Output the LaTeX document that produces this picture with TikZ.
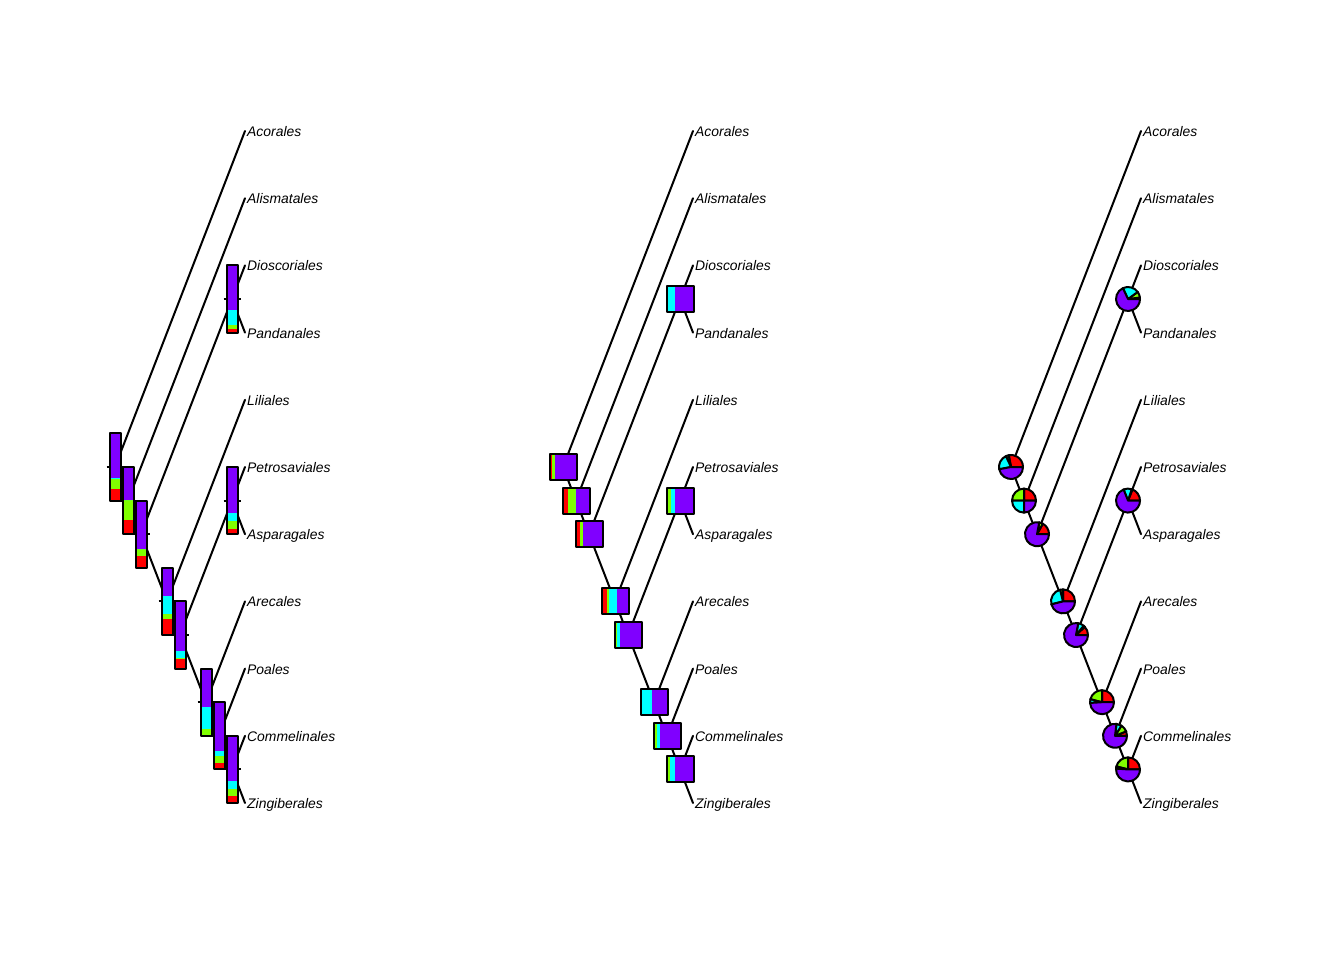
\documentclass[tikz,border=0pt]{standalone}
\usepackage{fontspec}
\setmainfont{Liberation Sans}
\usetikzlibrary{positioning}

\definecolor{rbred}{HTML}{FF0000}
\definecolor{rbgreen}{HTML}{80FF00}
\definecolor{rbcyan}{HTML}{00FFFF}
\definecolor{rbpurple}{HTML}{8000FF}

% vertical thermometer: #1 node, #2 red, #3 green, #4 cyan, purple fills the rest
\newcommand{\vthermo}[4]{%
  \begin{scope}[shift={(#1)}]
    \fill[rbred]    (-5.5,33.6) rectangle (5.5,{33.6-67.2*#2});
    \fill[rbgreen]  (-5.5,{33.6-67.2*#2}) rectangle (5.5,{33.6-67.2*(#2+#3)});
    \fill[rbcyan]   (-5.5,{33.6-67.2*(#2+#3)}) rectangle (5.5,{33.6-67.2*(#2+#3+#4)});
    \fill[rbpurple] (-5.5,{33.6-67.2*(#2+#3+#4)}) rectangle (5.5,-33.6);
    \draw[frame] (-5.5,-33.6) rectangle (5.5,33.6);
    \draw[frame] (-8.5,0) -- (-5.5,0) (5.5,0) -- (8.5,0);
  \end{scope}}

% horizontal thermometer (square box), red on the left
\newcommand{\hthermo}[4]{%
  \begin{scope}[shift={(#1)}]
    \fill[rbred]    (-13.5,-13) rectangle ({-13.5+27*#2},13);
    \fill[rbgreen]  ({-13.5+27*#2},-13) rectangle ({-13.5+27*(#2+#3)},13);
    \fill[rbcyan]   ({-13.5+27*(#2+#3)},-13) rectangle ({-13.5+27*(#2+#3+#4)},13);
    \fill[rbpurple] ({-13.5+27*(#2+#3+#4)},-13) rectangle (13.5,13);
    \draw[frame] (-13.5,-13) rectangle (13.5,13);
  \end{scope}}

% pie, slices counter-clockwise from east
\newcommand{\nodepie}[4]{%
  \begin{scope}[shift={(#1)}, yscale=-1]
    \filldraw[frame, fill=rbred] (0,0) -- (0:12)
      arc[start angle=0, end angle={360*#2}, radius=12] -- cycle;
    \filldraw[frame, fill=rbgreen] (0,0) -- ({360*#2}:12)
      arc[start angle={360*#2}, end angle={360*(#2+#3)}, radius=12] -- cycle;
    \filldraw[frame, fill=rbcyan] (0,0) -- ({360*(#2+#3)}:12)
      arc[start angle={360*(#2+#3)}, end angle={360*(#2+#3+#4)}, radius=12] -- cycle;
    \filldraw[frame, fill=rbpurple] (0,0) -- ({360*(#2+#3+#4)}:12)
      arc[start angle={360*(#2+#3+#4)}, end angle=360, radius=12] -- cycle;
  \end{scope}}

\begin{document}
\begin{tikzpicture}[x=1pt, y=-1pt,
    edge/.style={line width=2pt, line cap=round},
    frame/.style={draw, line width=2pt, line join=round},
    tiplabel/.style={inner sep=0pt, anchor=base west, yshift=-5.5pt,
      font=\fontsize{13.9}{16}\selectfont\itshape}]
\useasboundingbox (0,0) rectangle (1344,960);

% the same cladogram three times
\foreach \p in {0,1,2} {
  \begin{scope}[xshift=\p*448pt, name prefix=p\p-]
    % tips and their labels
    \foreach \name [count=\i] in {Acorales, Alismatales, Dioscoriales, Pandanales,
        Liliales, Petrosaviales, Asparagales, Arecales, Poales, Commelinales,
        Zingiberales} {
      \coordinate (a\i) at (245,{131+67.2*(\i-1)});
      \node[right=2pt of a\i, tiplabel] (l\i) {\name};
    }
    % inner nodes
    \coordinate (r)  at (115, 467);
    \coordinate (n2) at (128, 500.6);
    \coordinate (n3) at (141, 534.2);
    \coordinate (nd) at (232, 299);
    \coordinate (n4) at (167, 601.4);
    \coordinate (n5) at (180, 635);
    \coordinate (np) at (232, 500.6);
    \coordinate (n6) at (206, 702.2);
    \coordinate (n7) at (219, 735.8);
    \coordinate (n8) at (232, 769.4);
    % branches
    \foreach \u/\v in {r/a1, r/n2, n2/a2, n2/n3, n3/nd, nd/a3, nd/a4, n3/n4,
        n4/a5, n4/n5, n5/np, np/a6, np/a7, n5/n6, n6/a8, n6/n7, n7/a9,
        n7/n8, n8/a10, n8/a11}
      \draw[edge] (\u) -- (\v);
  \end{scope}
}

% thermometers on the first tree
\vthermo{p0-r}{.18}{.14}{.02}
\vthermo{p0-n2}{.21}{.30}{0}
\vthermo{p0-n3}{.18}{.10}{0}
\vthermo{p0-nd}{.05}{.07}{.21}
\vthermo{p0-n4}{.24}{.07}{.27}
\vthermo{p0-n5}{.15}{.01}{.10}
\vthermo{p0-np}{.08}{.11}{.13}
\vthermo{p0-n6}{0}{.10}{.33}
\vthermo{p0-n7}{.10}{.10}{.08}
\vthermo{p0-n8}{.10}{.11}{.12}

% boxes on the second tree
\hthermo{p1-r}{.08}{.14}{0}
\hthermo{p1-n2}{.19}{.30}{0}
\hthermo{p1-n3}{.16}{.12}{0}
\hthermo{p1-nd}{0}{.07}{.25}
\hthermo{p1-n4}{.22}{.06}{.30}
\hthermo{p1-n5}{.07}{.03}{.10}
\hthermo{p1-np}{.05}{.10}{.17}
\hthermo{p1-n6}{0}{.06}{.35}
\hthermo{p1-n7}{.05}{.08}{.10}
\hthermo{p1-n8}{.07}{.07}{.18}

% pies on the third tree
\nodepie{p2-r}{.28}{.04}{.21}
\nodepie{p2-n2}{.25}{.25}{.25}
\nodepie{p2-n3}{.17}{.05}{0}
\nodepie{p2-nd}{.02}{.08}{.22}
\nodepie{p2-n4}{.25}{.04}{.25}
\nodepie{p2-n5}{.12}{.02}{.08}
\nodepie{p2-np}{.19}{.01}{.11}
\nodepie{p2-n6}{.25}{.21}{.05}
\nodepie{p2-n7}{.06}{.10}{.07}
\nodepie{p2-n8}{.25}{.21}{.03}
\end{tikzpicture}
\end{document}
